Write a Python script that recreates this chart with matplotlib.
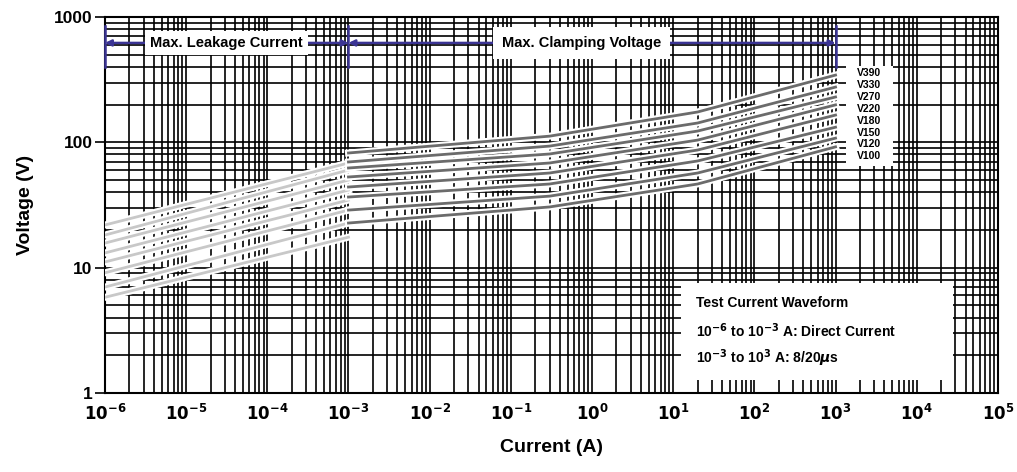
import numpy as np
import matplotlib
matplotlib.use('Agg')
import matplotlib.pyplot as plt
import matplotlib.patheffects as pe
from matplotlib.ticker import LogLocator, FixedFormatter, FixedLocator, NullFormatter
from matplotlib.patches import Rectangle

plt.rcParams['font.family'] = ['Liberation Sans', 'DejaVu Sans']
plt.rcParams['font.weight'] = 'bold'

# leakage region (light grey), 8 varistor curves, top to bottom
leak_current = [1e-6, 1e-3]
leak_v = [
    [21.9, 68.4],
    [18.2, 60.1],
    [15.7, 50.0],
    [13.1, 41.6],
    [11.1, 34.6],
    [9.1, 28.8],
    [7.0, 22.7],
    [5.8, 17.5],
]

# clamping region (dark grey)
clamp_current = [1e-3, 3e-1, 2e1, 1e3]
clamp_v = [
    [82.2, 112.0, 174.6, 344.0],
    [69.7, 93.3, 142.6, 276.0],
    [62.4, 80.7, 123.0, 230.0],
    [52.9, 68.4, 104.2, 199.0],
    [44.0, 56.9, 86.8, 165.0],
    [36.6, 46.5, 71.0, 132.0],
    [28.8, 37.2, 56.9, 108.0],
    [22.7, 30.5, 46.5, 92.0],
]

curve_labels = ['V390', 'V330', 'V270', 'V220', 'V180', 'V150', 'V120', 'V100']

x_ticks = [10.0 ** k for k in range(-6, 6)]
x_ticklabels = [r'$\mathbf{10^{%d}}$' % k for k in range(-6, 6)]
y_ticks = [1, 10, 100, 1000]
y_ticklabels = ['1', '10', '100', '1000']

fig = plt.figure(figsize=(10.17, 4.72), dpi=100)
ax = fig.add_axes([0.1032, 0.1674, 0.878, 0.7966])
ax.set_xscale('log')
ax.set_yscale('log')
ax.set_xlim(1e-6, 1e5)
ax.set_ylim(1, 1000)

ax.xaxis.set_major_locator(FixedLocator(x_ticks))
ax.xaxis.set_major_formatter(FixedFormatter(x_ticklabels))
ax.xaxis.set_minor_locator(LogLocator(base=10, subs=np.arange(2, 10), numticks=200))
ax.xaxis.set_minor_formatter(NullFormatter())
ax.yaxis.set_major_locator(FixedLocator(y_ticks))
ax.yaxis.set_major_formatter(FixedFormatter(y_ticklabels))
ax.yaxis.set_minor_locator(LogLocator(base=10, subs=np.arange(2, 10), numticks=200))
ax.yaxis.set_minor_formatter(NullFormatter())

ax.grid(True, which='both', color='black', linewidth=1.2)
ax.set_axisbelow(True)
ax.tick_params(axis='x', which='both', length=0, pad=7, labelsize=12)
ax.tick_params(axis='y', which='major', length=7, width=1.2, labelsize=12.5, pad=2)
ax.tick_params(axis='y', which='minor', length=0)
for s in ax.spines.values():
    s.set_linewidth(1.5)

halo = [pe.Stroke(linewidth=5, foreground='white'), pe.Normal()]
for v in leak_v:
    ax.plot(leak_current, v, color='#c8c8c8', lw=2.0, path_effects=halo, zorder=3)
for v in clamp_v:
    ax.plot(clamp_current, v, color='#6b6b6b', lw=2.0, path_effects=halo, zorder=3)

# region markers
blue = '#3b3494'
trans = ax.get_xaxis_transform()
bar_lo, bar_hi, arr_y = 0.867, 0.975, 0.931
for x in [1e-6, 1e-3, 1e3]:
    ax.plot([x, x], [bar_lo, bar_hi], color=blue, lw=1.8, transform=trans, zorder=4, clip_on=False)
for x0, x1 in [(1e-6, 1e-3), (1e-3, 1e3)]:
    ax.annotate('', xy=(x0, arr_y), xytext=(x1, arr_y), xycoords=trans, textcoords=trans,
                arrowprops=dict(arrowstyle='<|-|>', color=blue, lw=1.8, shrinkA=0, shrinkB=0,
                                mutation_scale=9), zorder=4)
ax.text(10 ** -4.5, arr_y, 'Max. Leakage Current', transform=trans, ha='center', va='center',
        fontsize=10.5, fontweight='bold', zorder=5,
        bbox=dict(boxstyle='square,pad=0.35', fc='white', ec='none'))
ax.text(10 ** -0.13, arr_y, 'Max. Clamping Voltage', transform=trans, ha='center', va='center',
        fontsize=10.5, fontweight='bold', zorder=5,
        bbox=dict(boxstyle='square,pad=0.6', fc='white', ec='none'))

# curve labels box
ax.add_patch(Rectangle((0.830, 0.605), 0.052, 0.265, transform=ax.transAxes,
                       fc='white', ec='none', zorder=5))
for i, lab in enumerate(curve_labels):
    ax.text(0.856, 0.85 - i * 0.0315, lab, transform=ax.transAxes, ha='center', va='center',
            fontsize=7.5, fontweight='bold', zorder=6)

# test current waveform box
ax.add_patch(Rectangle((0.645, 0.035), 0.305, 0.258, transform=ax.transAxes,
                       fc='white', ec='none', zorder=5))
wave_lines = ['Test Current Waveform',
              r'10$^{\mathbf{-6}}$ to 10$^{\mathbf{-3}}$ A: Direct Current',
              r'10$^{\mathbf{-3}}$ to 10$^{\mathbf{3}}$ A: 8/20$\mu$s']
for i, line in enumerate(wave_lines):
    ax.text(0.662, 0.239 - i * 0.073, line, transform=ax.transAxes, ha='left', va='center',
            fontsize=10, fontweight='bold', zorder=6)

ax.set_xlabel('Current (A)', fontsize=14, fontweight='bold', labelpad=12)
ax.set_ylabel('Voltage (V)', fontsize=14, fontweight='bold', labelpad=14)

fig.savefig('out.png', dpi=100)
